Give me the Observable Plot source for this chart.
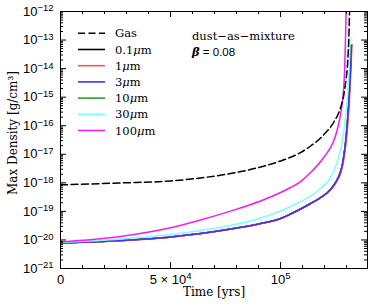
<!DOCTYPE html>
<html><head><meta charset="utf-8">
<script src="https://cdn.jsdelivr.net/npm/d3@7"></script>
<script src="https://cdn.jsdelivr.net/npm/@observablehq/plot@0.6"></script>
<style>body{margin:0;background:#fff}#chart{width:374px;height:308px}</style>
</head><body><div id="chart"></div>
<script>
// ---- data (time in yrs, max density in g/cm^3) ----
const seriesNames = ["Gas", "0.1μm", "1μm", "3μm", "10μm", "30μm", "100μm"];
const seriesColors = ["#000000", "#000000", "#f05a5a", "#4a30f0", "#2e9e2e", "#80ffff", "#f01ef0"];

const tGas   = [0, 27270, 50000, 63640, 77270, 90910, 100000, 104550, 109090, 113640, 118180, 119680, 124230, 127270, 128770, 129680, 130320, 130770, 131090, 131360];
const rhoGas = [8.5e-19, 9.9e-19, 1.16e-18, 1.48e-18, 2.12e-18, 3.58e-18, 5.81e-18, 7.83e-18, 1.15e-17, 1.95e-17, 3.71e-17, 4.92e-17, 1.35e-16, 4.33e-16, 1.24e-15, 3.83e-15, 1.09e-14, 4.31e-14, 1.84e-13, 1e-12];

const t01   = [0, 27270, 50000, 63640, 77270, 90910, 100000, 104550, 109090, 113640, 118180, 122730, 125000, 127270, 128180, 129090, 129770, 130450, 131040, 131500, 131860, 132180];
const rho01 = [7.82e-21, 9.56e-21, 1.27e-20, 1.68e-20, 2.41e-20, 3.77e-20, 5.64e-20, 8.10e-20, 1.21e-19, 1.89e-19, 3.06e-19, 5.83e-19, 1.03e-18, 2.49e-18, 4.75e-18, 1.36e-17, 3.86e-17, 1.65e-16, 7.05e-16, 3.26e-15, 1.29e-14, 6.44e-14];

const t1   = [0, 27270, 50000, 63640, 77270, 90910, 100000, 104550, 109090, 113640, 118180, 122730, 125200, 127500, 128400, 129300, 130000, 130700, 131250, 131700, 132050, 132450];
const rho1 = [7.6e-21, 9.3e-21, 1.24e-20, 1.64e-20, 2.35e-20, 3.67e-20, 5.48e-20, 7.85e-20, 1.17e-19, 1.83e-19, 2.96e-19, 5.6e-19, 1.0e-18, 2.4e-18, 4.6e-18, 1.32e-17, 3.75e-17, 1.6e-16, 6.8e-16, 3.2e-15, 1.25e-14, 7.0e-14];

const t3   = [0, 27270, 50000, 63640, 77270, 90910, 100000, 104550, 109090, 113640, 118180, 122730, 125000, 127270, 128180, 129090, 129770, 130450, 131040, 131500, 131860, 132180];
const rho3 = [7.82e-21, 9.56e-21, 1.27e-20, 1.68e-20, 2.41e-20, 3.77e-20, 5.64e-20, 8.10e-20, 1.21e-19, 1.89e-19, 3.06e-19, 5.83e-19, 1.03e-18, 2.49e-18, 4.75e-18, 1.36e-17, 3.86e-17, 1.65e-16, 7.05e-16, 3.26e-15, 1.29e-14, 6.44e-14];

const t10   = [0, 27270, 50000, 63640, 77270, 90910, 100000, 104550, 109090, 113640, 118180, 122730, 125000, 127270, 128180, 129090, 129770, 130450, 131040, 131500, 131860, 132180];
const rho10 = [7.82e-21, 9.56e-21, 1.27e-20, 1.68e-20, 2.41e-20, 3.77e-20, 5.64e-20, 8.10e-20, 1.21e-19, 1.89e-19, 3.06e-19, 5.83e-19, 1.03e-18, 2.49e-18, 4.75e-18, 1.36e-17, 3.86e-17, 1.65e-16, 7.05e-16, 3.26e-15, 1.29e-14, 6.44e-14];

const t30   = [0, 27270, 50000, 63640, 77270, 90910, 100000, 104550, 109090, 113640, 118180, 121950, 124090, 125910, 127270, 128320, 129230, 129910, 130450, 130910, 131180, 131410, 131550];
const rho30 = [8.14e-21, 1.08e-20, 1.55e-20, 2.14e-20, 3.21e-20, 5.87e-20, 1.03e-19, 1.48e-19, 2.22e-19, 3.46e-19, 6.33e-19, 1.26e-18, 2.49e-18, 6.05e-18, 1.47e-17, 3.87e-17, 1.30e-16, 4.01e-16, 1.24e-15, 4.51e-15, 1.29e-14, 4.31e-14, 1.23e-13];

const t100   = [0, 27270, 50000, 63640, 77270, 90910, 100000, 104550, 109090, 113640, 119680, 124230, 125680, 126910, 127820, 128410, 128820, 129140, 129360, 129590, 129770];
const rho100 = [8.47e-21, 1.32e-20, 2.66e-20, 4.99e-20, 1.02e-19, 2.31e-19, 4.58e-19, 6.86e-19, 1.11e-18, 2.30e-18, 7.90e-18, 3.04e-17, 6.80e-17, 1.79e-16, 4.71e-16, 1.14e-15, 3.01e-15, 1.09e-14, 4.31e-14, 2.16e-13, 1e-12];

// ticks, titles and annotation text
const yTickExps = [-21, -20, -19, -18, -17, -16, -15, -14, -13, -12];
const xTickValues = [0, 50000, 100000];
const xTickLabels = ["0", "5 × 10^4", "10^5"];
const xMinorValues = [10000, 20000, 30000, 40000, 60000, 70000, 80000, 90000, 110000, 120000, 130000];
const xTitle = "Time [yrs]";
const yTitle = "Max Density [g/cm³]";
const annotation = ["dust−as−mixture", "β", " = 0.08"];

// ---- layout ----
const W = 374, H = 308, mL = 60, mR = 7, mT = 11, mB = 40;
const pw = W - mL - mR, ph = H - mT - mB;

const yMajors = yTickExps.map(e => Math.pow(10, e));
const yMinors = [];
yTickExps.slice(0, -1).forEach(e => { for (let m = 2; m <= 9; m++) yMinors.push(m * Math.pow(10, e)); });

const table = (ts, rs) => ts.map((t, i) => ({t, rho: rs[i]}));
const series = [
  {data: table(t01, rho01), color: seriesColors[1]},
  {data: table(t10, rho10), color: seriesColors[4]},
  {data: table(t1, rho1), color: seriesColors[2]},
  {data: table(t3, rho3), color: seriesColors[3]},
  {data: table(t30, rho30), color: seriesColors[5]},
  {data: table(t100, rho100), color: seriesColors[6]}
];

const sans = "'Liberation Sans', Arial, sans-serif";
const serif = "'DejaVu Serif', serif";

const marks = [
  ...series.map(s => Plot.line(s.data, {x: "t", y: "rho", stroke: s.color, strokeWidth: 1.5, clip: true, curve: "monotone-x"})),
  Plot.line(table(tGas, rhoGas), {x: "t", y: "rho", stroke: "#000", strokeWidth: 1.5, strokeDasharray: "7,3.5", clip: true, curve: "monotone-x"}),
  // inward ticks on all four sides
  Plot.tickY(yMajors, {insetRight: pw - 6, stroke: "#000"}),
  Plot.tickY(yMinors, {insetRight: pw - 3, stroke: "#000"}),
  Plot.tickY(yMajors, {insetLeft: pw - 6, stroke: "#000"}),
  Plot.tickY(yMinors, {insetLeft: pw - 3, stroke: "#000"}),
  Plot.tickX(xTickValues, {insetTop: ph - 6, stroke: "#000"}),
  Plot.tickX(xMinorValues, {insetTop: ph - 3, stroke: "#000"}),
  Plot.tickX(xTickValues, {insetBottom: ph - 6, stroke: "#000"}),
  Plot.tickX(xMinorValues, {insetBottom: ph - 3, stroke: "#000"}),
  Plot.frame({stroke: "#000", strokeWidth: 1}),
  Plot.axisY({ticks: yMajors, tickSize: 0, tickPadding: 7, label: null, fontSize: 13, fontFamily: sans,
    tickFormat: d => "10^" + String(Math.round(Math.log10(d))).replace("-", "−")}),
  Plot.axisX({ticks: xTickValues, tickSize: 0, tickPadding: 6, label: null, fontSize: 13, fontFamily: sans,
    tickFormat: d => xTickLabels[xTickValues.indexOf(d)]}),
  Plot.text([xTitle], {frameAnchor: "bottom", dy: 27, fontSize: 12, fontFamily: serif, fill: "#000"})
];

const svgEl = Plot.plot({
  width: W, height: H,
  marginLeft: mL, marginRight: mR, marginTop: mT, marginBottom: mB,
  style: {background: "#fff", color: "#000", fontFamily: sans},
  x: {domain: [0, 139500]},
  y: {type: "log", domain: [1e-21, 1e-12]},
  marks
});
document.getElementById("chart").appendChild(svgEl);

const svg = d3.select(svgEl);
// superscripts in tick labels
svg.selectAll("text").each(function () {
  const txt = this.textContent;
  const m = txt.match(/^(.*10)\^(.+)$/);
  if (!m) return;
  const el = d3.select(this);
  el.text(null);
  el.append("tspan").text(m[1]);
  el.append("tspan").attr("dy", "-0.45em").attr("font-size", "9.5px").text(m[2]);
});

// y-axis title
svg.append("text")
  .attr("transform", "translate(17,133) rotate(-90)")
  .attr("text-anchor", "middle")
  .attr("font-family", serif).attr("font-size", "12px").attr("fill", "#000")
  .text(yTitle);

// legend (inside the frame, top left)
const lg = svg.append("g").attr("text-anchor", "start");
seriesNames.forEach((name, i) => {
  const y = 33.3 + i * 16.2;
  lg.append("line").attr("x1", 78).attr("x2", 105).attr("y1", y).attr("y2", y)
    .attr("stroke", seriesColors[i]).attr("stroke-width", 1.6)
    .attr("stroke-dasharray", i === 0 ? "7,3.5" : null);
  const t = lg.append("text").attr("x", 115).attr("y", y).attr("dy", "0.35em")
    .attr("font-family", serif).attr("font-size", "11.5px").attr("fill", "#000");
  const mm = name.match(/^(.*)μm$/);
  if (mm) {
    t.append("tspan").text(mm[1]);
    t.append("tspan").attr("font-style", "italic").text("μ");
    t.append("tspan").text("m");
  } else t.text(name);
});
// annotation
lg.append("text").attr("x", 192).attr("y", 36).attr("dy", "0.35em")
  .attr("font-family", serif).attr("font-size", "11.5px").attr("fill", "#000").text(annotation[0]);
const bt = lg.append("text").attr("x", 192).attr("y", 52).attr("dy", "0.35em").attr("font-size", "11.5px").attr("fill", "#000");
bt.append("tspan").attr("font-family", serif).attr("font-style", "italic").attr("font-weight", "bold").text(annotation[1]);
bt.append("tspan").attr("font-family", sans).text(annotation[2]);
</script>
</body></html>
